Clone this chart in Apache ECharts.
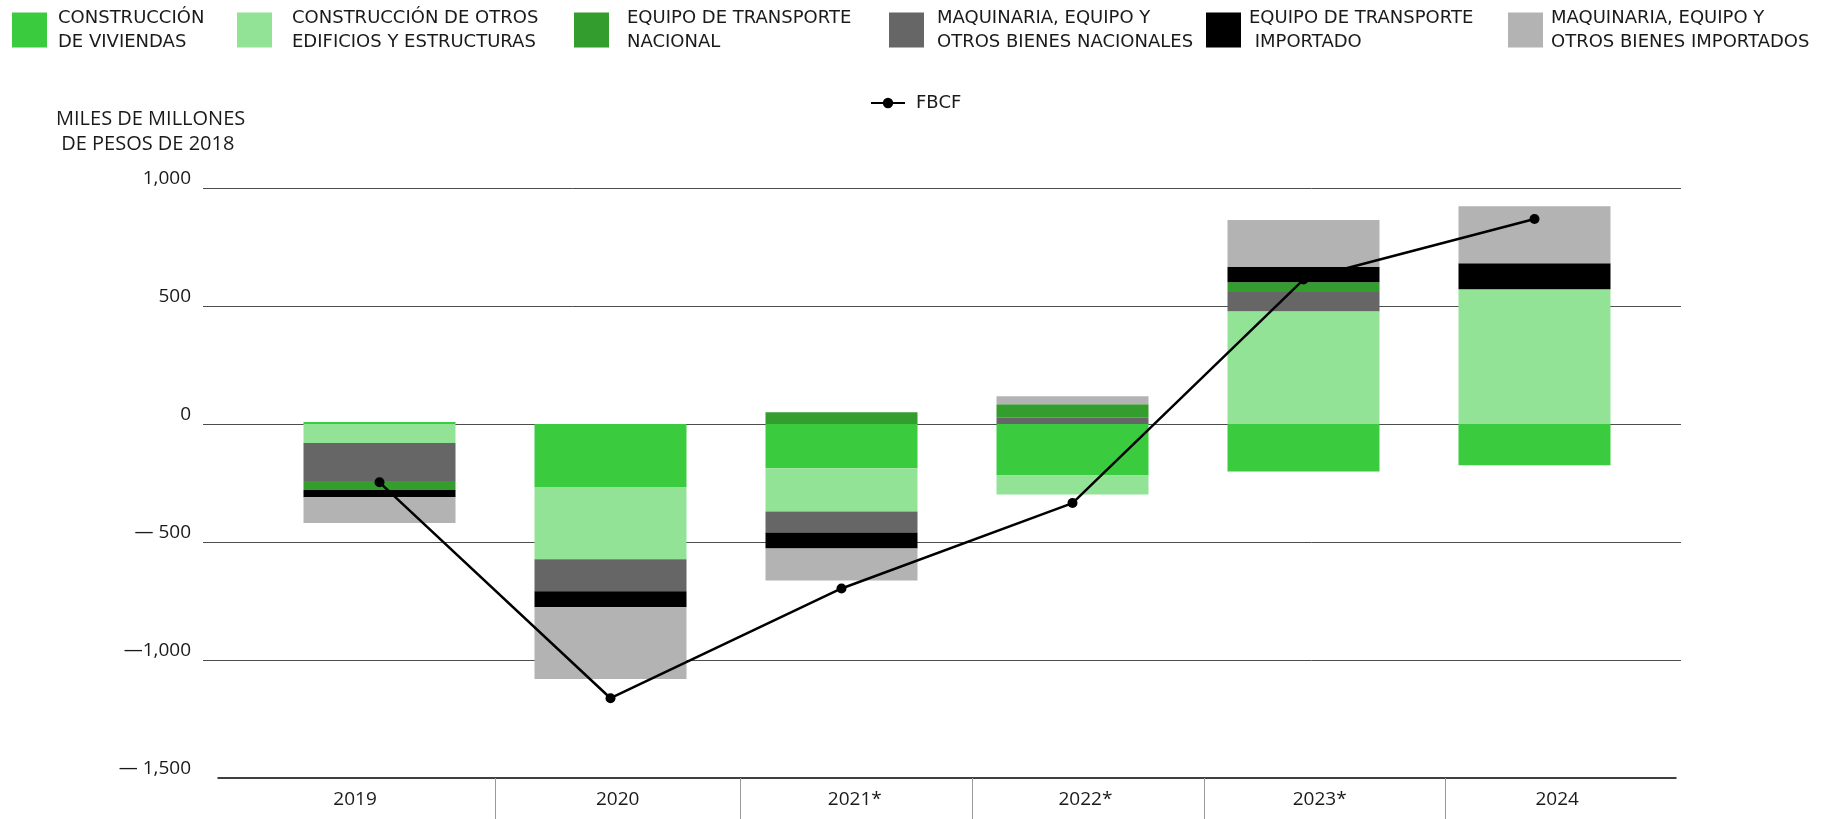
<!DOCTYPE html>
<html>
<head>
<meta charset="utf-8">
<script src="https://cdn.jsdelivr.net/npm/echarts@6/dist/echarts.min.js"></script>
<style>
html,body{margin:0;padding:0;background:#fff;}
#chart{width:1841px;height:819px;}
</style>
</head>
<body>
<div id="chart"></div>
<script>
// ---- data ----
const categories = ['2019', '2020', '2021*', '2022*', '2023*', '2024'];
const viviendas       = [8, -267, -188, -218, -201, -175];
const otrosEdificios  = [-81, -306, -183, -81, 478, 571];
const maqNacional     = [-161, -136, -89, 27, 81, 0];
const transpNacional  = [-38, 0, 50, 57, 42, 0];
const transpImportado = [-30, -68, -68, 0, 64, 110];
const maqImportado    = [-109, -304, -135, 34, 199, 242];
const fbcf            = [-247, -1162, -697, -335, 612, 869];
const yTicks      = [-1500, -1000, -500, 0, 500, 1000];
const yTickLabels = ['\u2014 1,500', '\u20141,000', '\u2014 500', '0', '500', '1,000'];

const names = {
  viv: 'CONSTRUCCIÓN\nDE VIVIENDAS',
  otros: 'CONSTRUCCIÓN DE OTROS\nEDIFICIOS Y ESTRUCTURAS',
  tNac: 'EQUIPO DE TRANSPORTE\nNACIONAL',
  mNac: 'MAQUINARIA, EQUIPO Y\nOTROS BIENES NACIONALES',
  tImp: 'EQUIPO DE TRANSPORTE\n IMPORTADO',
  mImp: 'MAQUINARIA, EQUIPO Y\nOTROS BIENES IMPORTADOS',
  fbcf: 'FBCF'
};
const colors = {
  viv: '#3acc3e', otros: '#93e397', tNac: '#339e2d',
  mNac: '#666666', tImp: '#000000', mImp: '#b3b3b3'
};

// x axis separators and label centres (bar-index units)
const sepPositions = [0.501, 1.559, 2.564, 3.568, 4.611];
const labelPositions = [-0.107, 1.03, 2.056, 3.054, 4.068, 5.096];

const FONT = 'DejaVu Sans';
const AXFONT = 'Open Sans';

function barSeries(key, arr) {
  return {
    name: names[key], type: 'bar', stack: 'total',
    xAxisIndex: 1, yAxisIndex: 1,
    barWidth: 152,
    itemStyle: { color: colors[key] },
    data: arr,
    z: 2
  };
}

const legendOrder = ['viv', 'otros', 'tNac', 'mNac', 'tImp', 'mImp'];
const legendLeft = [12, 237, 574, 889, 1206, 1508];
const legendPad = [6, 15, 13, 8, 3, 3];
const legends = legendOrder.map((k, i) => ({
  data: [names[k]],
  left: legendLeft[i], top: 6, padding: 0,
  itemWidth: 35, itemHeight: 35,
  icon: 'rect',
  selectedMode: false,
  textStyle: { fontFamily: FONT, fontSize: 18, lineHeight: 24, color: '#1a1a1a', padding: [0, 0, 0, legendPad[i]] }
}));
legends.push({
  data: [names.fbcf],
  left: 870, top: 94, padding: 0,
  itemWidth: 34, itemHeight: 13,
  selectedMode: false,
  textStyle: { fontFamily: FONT, fontSize: 18, lineHeight: 14, color: '#1a1a1a', padding: [0, 0, 0, 6] }
});

const chart = echarts.init(document.getElementById('chart'), null, { renderer: 'canvas' });
chart.setOption({
  animation: false,
  backgroundColor: '#fff',
  title: {
    text: 'MILES DE MILLONES\n DE PESOS DE 2018',
    left: 56, top: 107, padding: 0,
    textStyle: { fontFamily: AXFONT, fontSize: 20, lineHeight: 25, fontWeight: 'normal', color: '#1a1a1a' }
  },
  legend: legends,
  grid: [
    { left: 203, right: 160, top: 188, bottom: 41 },
    { left: 264, right: 191, top: 188, bottom: 41 },
    { left: 218, right: 165, top: 188, bottom: 41 }
  ],
  xAxis: [
    { gridIndex: 0, type: 'value', min: 0, max: 1, show: false },
    { gridIndex: 1, type: 'category', data: categories, show: false },
    {
      gridIndex: 2, type: 'value', min: -0.7, max: 5.61,
      splitLine: { show: false },
      axisLine: { show: true, onZero: false, lineStyle: { color: '#000', width: 1.5 } },
      axisTick: { show: true, customValues: sepPositions, length: 42, lineStyle: { color: '#999', width: 1 } },
      axisLabel: {
        customValues: labelPositions,
        formatter: v => { const i = labelPositions.indexOf(v); return i >= 0 ? categories[i] : ''; },
        fontFamily: AXFONT, fontSize: 19, color: '#1a1a1a', margin: 12
      }
    }
  ],
  yAxis: [
    {
      gridIndex: 0, type: 'value', min: -1500, max: 1000, interval: 500,
      axisLine: { show: false }, axisTick: { show: false },
      splitLine: { show: true, showMinLine: false, lineStyle: { color: '#4d4d4d', width: 1 } },
      axisLabel: {
        formatter: v => { const i = yTicks.indexOf(v); return i >= 0 ? yTickLabels[i] : ''; },
        fontFamily: AXFONT, fontSize: 19, color: '#1a1a1a', margin: 12, verticalAlign: 'bottom', lineHeight: 18
      }
    },
    {
      gridIndex: 1, type: 'value', min: -1500, max: 1000, interval: 500, show: false,
      splitLine: { show: false }
    },
    {
      gridIndex: 2, type: 'value', min: -1500, max: 1000, interval: 500, show: false,
      splitLine: { show: false }
    }
  ],
  series: [
    barSeries('viv', viviendas),
    barSeries('otros', otrosEdificios),
    barSeries('mNac', maqNacional),
    barSeries('tNac', transpNacional),
    barSeries('tImp', transpImportado),
    barSeries('mImp', maqImportado),
    {
      name: names.fbcf, type: 'line', xAxisIndex: 1, yAxisIndex: 1,
      data: fbcf,
      symbol: 'circle', symbolSize: 10,
      lineStyle: { color: '#000', width: 2.5 },
      itemStyle: { color: '#000' },
      z: 5
    }
  ]
});
</script>
</body>
</html>
